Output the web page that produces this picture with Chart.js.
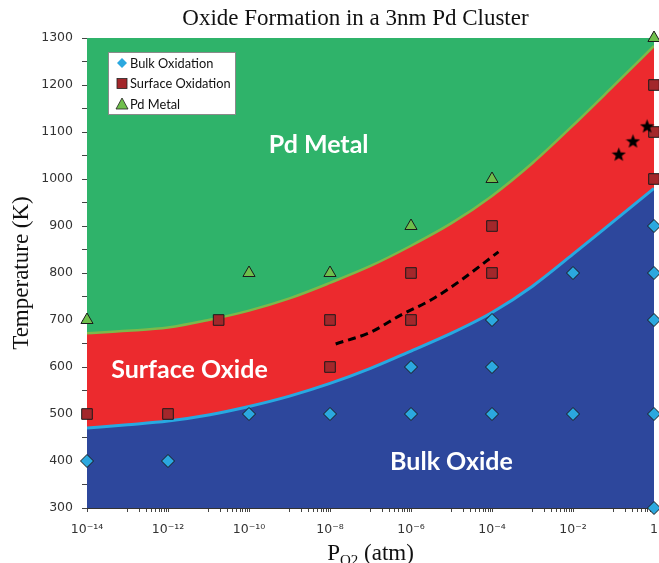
<!DOCTYPE html>
<html>
<head>
<meta charset="utf-8">
<script src="https://cdn.jsdelivr.net/npm/chart.js@4.4.0/dist/chart.umd.min.js"></script>
<style>
    html, body { margin: 0; padding: 0; background: #fff; }
    canvas { display: block; }
</style>
</head>
<body>
<canvas id="phaseChart" width="659" height="563"></canvas>
<script>
// x values are log10 of P_O2 (atm)
var boundaryLogP = [-14, -13, -12, -11, -10, -9, -8, -7, -6, -5, -4, -3, -2, -1, 0];
var bulkSurfaceT = [470, 477, 485, 498, 516, 538, 565, 597, 634, 672, 716, 772, 840, 910, 980];
var surfaceMetalT = [672, 677, 684, 700, 720, 746, 779, 815, 858, 906, 964, 1034, 1114, 1198, 1283];

var bulkLogP = [-14, -12, -10, -8, -6, -6, -4, -4, -4, -2, -2, 0, 0, 0, 0, 0];
var bulkT = [400, 400, 500, 500, 500, 600, 500, 600, 700, 500, 800, 300, 500, 700, 800, 900];

var surfaceLogP = [-14, -12, -10.75, -8, -8, -6, -6, -4, -4, 0, 0, 0];
var surfaceT = [500, 500, 700, 600, 700, 700, 800, 800, 900, 1000, 1100, 1200];

var metalLogP = [-14, -10, -8, -6, -4, 0];
var metalT = [700, 800, 800, 900, 1000, 1300];

var starLogP = [-0.87, -0.52, -0.17];
var starT = [1053, 1081, 1113];

var dashLogP = [-7.86, -7, -6.24, -5.5, -4.76, -3.84];
var dashT = [649, 674, 711, 743, 785, 845];

var xTickExp = [-14, -12, -10, -8, -6, -4, -2, 0];
var xTickLabels = ['10⁻¹⁴', '10⁻¹²', '10⁻¹⁰', '10⁻⁸', '10⁻⁶', '10⁻⁴', '10⁻²', '1'];
var seriesNames = ['Bulk Oxidation', 'Surface Oxidation', 'Pd Metal'];

function pts(xs, ys) {
    return xs.map(function (x, i) { return { x: x, y: ys[i] }; });
}

// filled five point star used for the three black markers
function makeStar(size) {
    var c = document.createElement('canvas');
    c.width = c.height = size;
    var g = c.getContext('2d');
    var cx = size / 2, cy = size / 2 + 0.8, R = size / 2, r = R * 0.42;
    g.fillStyle = '#000';
    g.beginPath();
    for (var i = 0; i < 10; i++) {
        var a = -Math.PI / 2 + i * Math.PI / 5;
        var rad = i % 2 ? r : R;
        g.lineTo(cx + rad * Math.cos(a), cy + rad * Math.sin(a));
    }
    g.closePath();
    g.fill();
    return c;
}

var GREEN = '#2fb36a', RED = '#ec2a2e', BLUE = '#2d479c';
var DIAMOND = '#2ba8df', SQUARE = '#a3272b', TRIANGLE = '#6fbf4c';
var SERIF = '23px "Liberation Serif"';

// green background = Pd metal region
var bgPlugin = {
    id: 'bg',
    beforeDatasetsDraw: function (chart) {
        var a = chart.chartArea, ctx = chart.ctx;
        ctx.save();
        ctx.fillStyle = GREEN;
        ctx.fillRect(a.left, a.top, a.right - a.left, a.bottom - a.top);
        ctx.restore();
    }
};

var textPlugin = {
    id: 'texts',
    afterDraw: function (chart) {
        var ctx = chart.ctx, a = chart.chartArea;
        var xs = chart.scales.x, ys = chart.scales.y;
        var mid = (a.left + a.right) / 2;
        ctx.save();

        // title
        ctx.fillStyle = '#111';
        ctx.textAlign = 'center';
        ctx.textBaseline = 'middle';
        ctx.font = SERIF;
        ctx.fillText('Oxide Formation in a 3nm Pd Cluster', mid - 15, 19);

        // y axis title
        ctx.save();
        ctx.translate(22, (a.top + a.bottom) / 2);
        ctx.rotate(-Math.PI / 2);
        ctx.fillText('Temperature (K)', 0, 0);
        ctx.restore();

        // x axis title with subscript
        ctx.textAlign = 'left';
        ctx.textBaseline = 'alphabetic';
        ctx.font = SERIF;
        var wP = ctx.measureText('P').width;
        var wRest = ctx.measureText(' (atm)').width;
        ctx.font = '15px "Liberation Serif"';
        var wSub = ctx.measureText('O2').width;
        var x0 = mid - (wP + wSub + wRest) / 2;
        var base = 560;
        ctx.font = SERIF;
        ctx.fillText('P', x0, base);
        ctx.font = '15px "Liberation Serif"';
        ctx.fillText('O2', x0 + wP, base + 5);
        ctx.font = SERIF;
        ctx.fillText(' (atm)', x0 + wP + wSub, base);

        // region labels
        ctx.fillStyle = '#fff';
        ctx.textAlign = 'center';
        ctx.textBaseline = 'middle';
        ctx.font = 'bold 25px Lato';
        ctx.fillText('Pd Metal', xs.getPixelForValue(-8.28), ys.getPixelForValue(1072));
        ctx.fillText('Surface Oxide', xs.getPixelForValue(-11.47), ys.getPixelForValue(594));
        ctx.fillText('Bulk Oxide', xs.getPixelForValue(-5.0), ys.getPixelForValue(398));

        // legend box
        var lx = 108.5, ly = 52.5;
        ctx.fillStyle = '#fff';
        ctx.strokeStyle = '#8a8a8a';
        ctx.lineWidth = 1;
        ctx.fillRect(lx, ly, 127, 62);
        ctx.strokeRect(lx, ly, 127, 62);
        var rows = [63, 83.5, 104];
        ctx.lineWidth = 0.8;
        ctx.strokeStyle = '#222';
        // diamond
        ctx.fillStyle = DIAMOND;
        ctx.beginPath();
        ctx.moveTo(122, rows[0] - 5); ctx.lineTo(127, rows[0]); ctx.lineTo(122, rows[0] + 5); ctx.lineTo(117, rows[0]);
        ctx.closePath(); ctx.fill();
        // square
        ctx.fillStyle = SQUARE;
        ctx.fillRect(117, rows[1] - 5, 10, 10);
        ctx.strokeRect(117, rows[1] - 5, 10, 10);
        // triangle
        ctx.fillStyle = TRIANGLE;
        ctx.beginPath();
        ctx.moveTo(122, rows[2] - 6); ctx.lineTo(128, rows[2] + 5); ctx.lineTo(116, rows[2] + 5);
        ctx.closePath(); ctx.fill(); ctx.stroke();

        ctx.fillStyle = '#111';
        ctx.textAlign = 'left';
        ctx.font = '12.8px Lato';
        seriesNames.forEach(function (n, i) {
            ctx.fillText(n, 130, rows[i] + 0.5);
        });
        ctx.restore();
    }
};

var ctx = document.getElementById('phaseChart').getContext('2d');
var markerBase = { borderColor: '#1b1b1b', borderWidth: 1, clip: false, order: 2 };

var phaseChart = new Chart(ctx, {
    type: 'scatter',
    data: {
        datasets: [{
            type: 'line',
            label: 'Surface / Metal boundary',
            data: pts(boundaryLogP, surfaceMetalT),
            borderColor: '#7cb94a',
            borderWidth: 2.5,
            backgroundColor: RED,
            fill: 'start',
            pointRadius: 0,
            cubicInterpolationMode: 'monotone',
            order: 20
        }, {
            type: 'line',
            label: 'Bulk / Surface boundary',
            data: pts(boundaryLogP, bulkSurfaceT),
            borderColor: '#27a9e1',
            borderWidth: 3,
            backgroundColor: BLUE,
            fill: 'start',
            pointRadius: 0,
            cubicInterpolationMode: 'monotone',
            order: 19
        }, {
            type: 'line',
            label: 'dashed',
            data: pts(dashLogP, dashT),
            borderColor: '#000',
            borderWidth: 3,
            borderDash: [8, 5],
            fill: false,
            pointRadius: 0,
            cubicInterpolationMode: 'monotone',
            order: 10
        }, Object.assign({
            label: seriesNames[0],
            data: pts(bulkLogP, bulkT),
            pointStyle: 'rectRot',
            pointRadius: 6.5,
            backgroundColor: DIAMOND
        }, markerBase), Object.assign({
            label: seriesNames[1],
            data: pts(surfaceLogP, surfaceT),
            pointStyle: 'rect',
            pointRadius: 7.5,
            backgroundColor: SQUARE
        }, markerBase), Object.assign({
            label: seriesNames[2],
            data: pts(metalLogP, metalT),
            pointStyle: 'triangle',
            pointRadius: 7,
            backgroundColor: TRIANGLE
        }, markerBase), {
            label: 'stars',
            data: pts(starLogP, starT),
            pointStyle: makeStar(15),
            clip: false,
            order: 1
        }]
    },
    options: {
        responsive: false,
        animation: false,
        events: [],
        layout: { autoPadding: false, padding: { top: 38, right: 5, left: 0, bottom: 0 } },
        plugins: {
            legend: { display: false },
            tooltip: { enabled: false }
        },
        scales: {
            x: {
                type: 'linear',
                min: -14,
                max: 0,
                afterBuildTicks: function (axis) {
                    var t = [];
                    xTickExp.forEach(function (e) { t.push({ value: e }); });
                    // minor ticks only in the odd decades, like the original
                    for (var n = -13; n < 0; n += 2) {
                        for (var k = 2; k <= 9; k++) t.push({ value: n - 1 + Math.log10(k * 10) });
                    }
                    for (var m = -13; m < 0; m += 2) t.push({ value: m });
                    t.sort(function (p, q) { return p.value - q.value; });
                    axis.ticks = t;
                },
                afterFit: function (scale) {
                    scale.height = 55;
                    scale.paddingLeft = 0;
                    scale.paddingRight = 0;
                },
                ticks: {
                    autoSkip: false,
                    maxRotation: 0,
                    padding: 10,
                    color: '#333',
                    font: { family: 'DejaVu Sans', size: 12.5 },
                    callback: function (v) {
                        for (var i = 0; i < xTickExp.length; i++) {
                            if (Math.abs(v - xTickExp[i]) < 1e-6) return xTickLabels[i];
                        }
                        return '';
                    }
                },
                grid: { drawOnChartArea: false, tickLength: 4, color: '#444' },
                border: { color: '#333' }
            },
            y: {
                min: 300,
                max: 1300,
                afterFit: function (scale) { scale.width = 87; },
                ticks: {
                    stepSize: 50,
                    padding: 9,
                    color: '#333',
                    font: { family: 'DejaVu Sans', size: 12.5 },
                    callback: function (v) { return v % 100 === 0 ? v : ''; }
                },
                grid: { drawOnChartArea: false, tickLength: 5, color: '#444' },
                border: { color: '#333' }
            }
        }
    },
    plugins: [bgPlugin, textPlugin]
});
</script>
</body>
</html>
